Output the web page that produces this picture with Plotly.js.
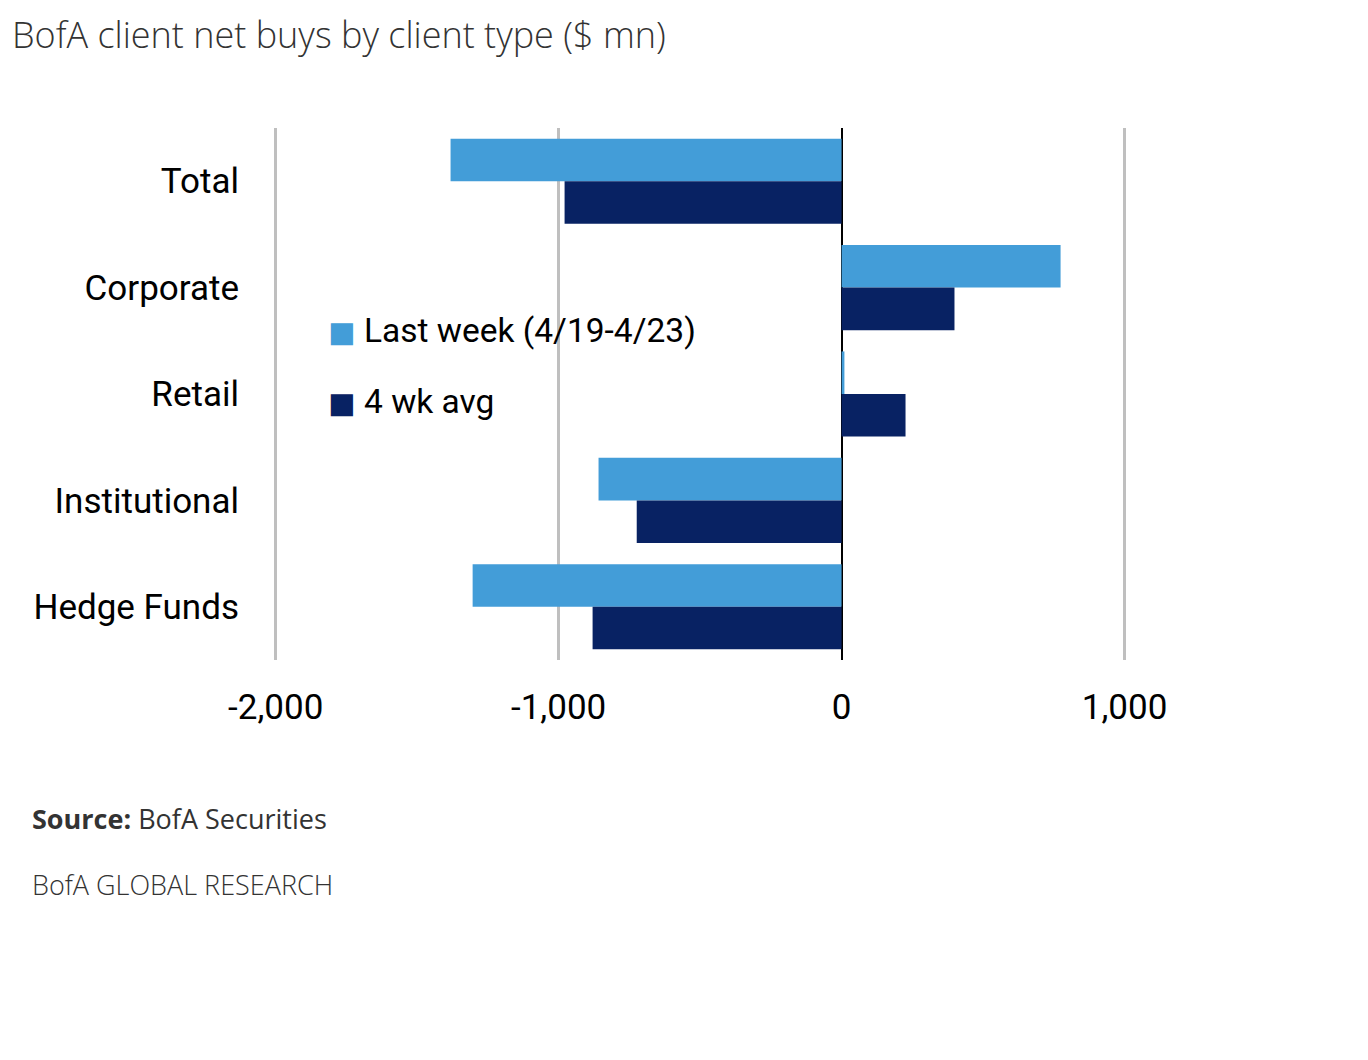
<!DOCTYPE html>
<html>
<head>
<meta charset="utf-8">
<script src="https://cdn.plot.ly/plotly-3.0.1.min.js"></script>
<style>
html,body{margin:0;padding:0;background:#fff;}
#chart{width:1368px;height:1060px;}
</style>
</head>
<body>
<div id="chart"></div>
<script>
var categories = ["Total", "Corporate", "Retail", "Institutional", "Hedge Funds"];
var lastWeek = [-1382, 774, 10, -859, -1304];
var fourWkAvg = [-979, 399, 226, -724, -880];
var seriesNames = ["Last week (4/19-4/23)", "4 wk avg"];
var seriesColors = ["#439DD8", "#082263"];
var xTickVals = [-2000, -1000, 0, 1000];
var xTickText = ["-2,000", "-1,000", "0", "1,000"];

var narrow = "Roboto, Liberation Sans Narrow, Arial Narrow, sans-serif";
var light = "Open Sans, Lato, Noto Sans, sans-serif";

var traces = [
  {type: "bar", orientation: "h", y: categories, x: lastWeek, name: seriesNames[0],
   marker: {color: seriesColors[0], line: {width: 0}}},
  {type: "bar", orientation: "h", y: categories, x: fourWkAvg, name: seriesNames[1],
   marker: {color: seriesColors[1], line: {width: 0}}}
];

var legendRowsY = [0.6203, 0.4868];
var annotations = [
  {xref: "paper", yref: "paper", x: -0.266, y: 1.176, xanchor: "left", yanchor: "middle",
   text: "BofA client net buys by client type ($ mn)", showarrow: false,
   font: {family: light, size: 36, color: "#333", weight: 300}},
  {xref: "paper", yref: "paper", x: -0.246, y: -0.298, xanchor: "left", yanchor: "middle",
   text: "<b>Source:</b> BofA Securities", showarrow: false,
   font: {family: light, size: 27, color: "#333"}},
  {xref: "paper", yref: "paper", x: -0.246, y: -0.422, xanchor: "left", yanchor: "middle",
   text: "BofA GLOBAL RESEARCH", showarrow: false,
   font: {family: light, size: 27, color: "#333", weight: 300}}
];
seriesNames.forEach(function (nm, i) {
  annotations.push({xref: "paper", yref: "paper", x: 0.052, y: legendRowsY[i] - 0.004,
    xanchor: "left", yanchor: "middle", text: "■", showarrow: false,
    font: {family: "DejaVu Sans", size: 29, color: seriesColors[i]}});
  annotations.push({xref: "paper", yref: "paper", x: 0.0885, y: legendRowsY[i],
    xanchor: "left", yanchor: "middle", text: nm, showarrow: false,
    font: {family: narrow, size: 33.5, color: "#000"}});
});

var layout = {
  width: 1368, height: 1060,
  paper_bgcolor: "#fff", plot_bgcolor: "#fff",
  margin: {l: 274, r: 102, t: 128, b: 400},
  barmode: "group", bargap: 0.2, bargroupgap: 0,
  showlegend: false,
  xaxis: {range: [-2006, 1500], tickvals: xTickVals, ticktext: xTickText,
          showgrid: true, gridcolor: "#bfbfbf", gridwidth: 3,
          zeroline: true, zerolinecolor: "#000", zerolinewidth: 2,
          showline: false, ticks: "", ticklabelstandoff: 23,
          tickfont: {family: narrow, size: 35, color: "#000"}},
  yaxis: {autorange: "reversed", showgrid: false, zeroline: false, showline: false,
          ticks: "", ticklabelstandoff: 34,
          tickfont: {family: narrow, size: 35, color: "#000"}},
  annotations: annotations
};

Plotly.newPlot("chart", traces, layout, {displayModeBar: false, staticPlot: true});
</script>
</body>
</html>
